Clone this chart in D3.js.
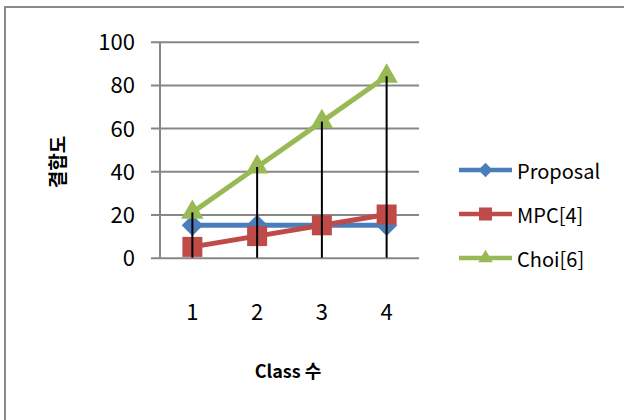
<!DOCTYPE html>
<html>
<head>
<meta charset="utf-8">
<script src="https://cdn.jsdelivr.net/npm/d3@7"></script>
<style>
  html, body { margin: 0; padding: 0; background: #fff; }
  svg { display: block; }
  text { font-family: "Noto Sans CJK KR", "Noto Sans", sans-serif; fill: #000; }
</style>
</head>
<body>
<svg id="chart" width="624" height="420"></svg>
<script>
// Chart data
const categories = ["1", "2", "3", "4"];
const seriesNames = ["Proposal", "MPC[4]", "Choi[6]"];
const proposal = [15, 15, 15, 15];
const mpc = [5, 10, 15, 20];
const choi = [21, 42, 63, 84];
const yTicks = [0, 20, 40, 60, 80, 100];
const xTitle = "Class 수";
const yTitle = "결합도";

const colors = ["#4a7ebb", "#be4b48", "#98b954"];
const symbols = [d3.symbolDiamond2, d3.symbolSquare, d3.symbolTriangle2];
const symbolSizes = [290, 400, 360];
const legendSizes = [130, 170, 150];

const series = [proposal, mpc, choi].map((values, i) => ({
  name: seriesNames[i], values, color: colors[i], symbol: symbols[i],
  size: symbolSizes[i], legendSize: legendSizes[i]
}));

const svg = d3.select("#chart");

// outer chart-area border
svg.append("rect")
  .attr("x", 5).attr("y", 7).attr("width", 640).attr("height", 440)
  .attr("fill", "none").attr("stroke", "#8a8a8a").attr("stroke-width", 2);

const plot = { left: 160, right: 419, top: 41.7, bottom: 257.7 };

const x = d3.scaleBand().domain(categories).range([plot.left, plot.right]).padding(0);
const y = d3.scaleLinear().domain([0, 100]).range([plot.bottom, plot.top]);
const cx = c => x(c) + x.bandwidth() / 2;

// y axis with gridlines
const yAxis = svg.append("g")
  .attr("transform", `translate(151,0)`)
  .call(d3.axisLeft(y).tickValues(yTicks).tickSize(-(plot.right - 151)).tickPadding(16));
yAxis.select(".domain").remove();
yAxis.selectAll(".tick line").attr("stroke", "#878787").attr("stroke-width", 2);
yAxis.selectAll(".tick text")
  .attr("font-size", 22).attr("dy", "0.36em")
  .style("font-family", "\"Noto Sans CJK KR\", sans-serif");

// vertical axis line
svg.append("line")
  .attr("x1", plot.left).attr("x2", plot.left)
  .attr("y1", y(100)).attr("y2", y(0))
  .attr("stroke", "#878787").attr("stroke-width", 2);

// x axis labels
const xAxis = svg.append("g")
  .attr("transform", `translate(0,${plot.bottom})`)
  .call(d3.axisBottom(x).tickSize(0).tickPadding(0));
xAxis.select(".domain").remove();
xAxis.selectAll(".tick text")
  .attr("font-size", 22).attr("y", 54).attr("dy", "0.36em")
  .style("font-family", "\"Noto Sans CJK KR\", sans-serif");

// series lines and markers
const line = d3.line().x((d, i) => cx(categories[i])).y(d => y(d));
series.forEach(s => {
  svg.append("path")
    .attr("d", line(s.values))
    .attr("fill", "none").attr("stroke", s.color)
    .attr("stroke-width", 5).attr("stroke-linejoin", "round");
  svg.selectAll(null).data(s.values).enter().append("path")
    .attr("transform", (d, i) => `translate(${cx(categories[i])},${y(d)})`)
    .attr("d", d3.symbol().type(s.symbol).size(s.size))
    .attr("fill", s.color);
});

// drop lines from highest value in each category to the baseline
categories.forEach((c, i) => {
  const top = d3.max(series, s => s.values[i]);
  svg.append("line")
    .attr("x1", cx(c)).attr("x2", cx(c))
    .attr("y1", y(top)).attr("y2", y(0))
    .attr("stroke", "#000").attr("stroke-width", 2);
});

// axis titles
svg.append("text")
  .attr("x", 288).attr("y", 372).attr("dy", "0.36em")
  .attr("text-anchor", "middle").attr("font-size", 18).attr("font-weight", "bold")
  .text(xTitle);
svg.append("text")
  .attr("transform", "translate(58,162) rotate(-90)")
  .attr("dy", "0.36em")
  .attr("text-anchor", "middle").attr("font-size", 19).attr("font-weight", "bold")
  .text(yTitle);

// legend
const legendY = [170, 214, 258];
series.forEach((s, i) => {
  const g = svg.append("g").attr("transform", `translate(0,${legendY[i]})`);
  g.append("line").attr("x1", 459).attr("x2", 512).attr("y1", 0).attr("y2", 0)
    .attr("stroke", s.color).attr("stroke-width", 4.5);
  g.append("path").attr("transform", "translate(485.5,0)")
    .attr("d", d3.symbol().type(s.symbol).size(s.legendSize))
    .attr("fill", s.color);
  g.append("text").attr("x", 517).attr("y", 2).attr("dy", "0.36em")
    .attr("font-size", 20).text(s.name);
});
</script>
</body>
</html>
